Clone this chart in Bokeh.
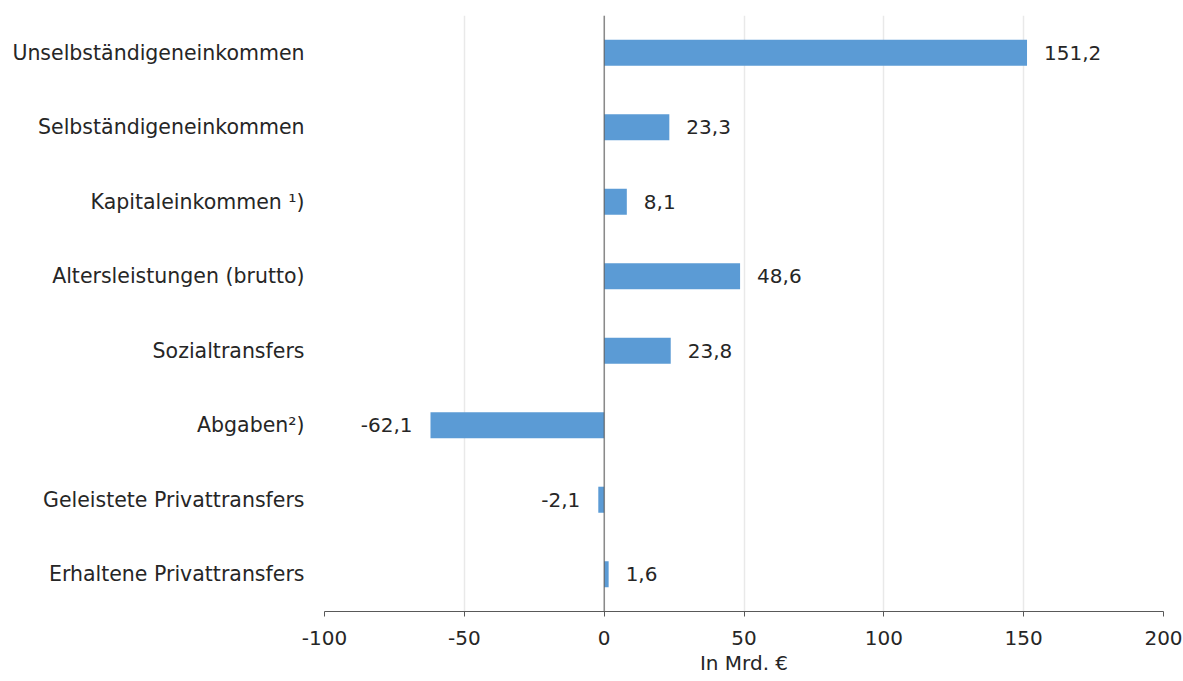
from bokeh.plotting import figure
from bokeh.models import FactorRange, Range1d, FixedTicker, Span, ColumnDataSource, LabelSet
from bokeh.core.properties import value
from bokeh.embed import file_html
from bokeh.resources import INLINE

categories = [
    "Unselbständigeneinkommen",
    "Selbständigeneinkommen",
    "Kapitaleinkommen ¹)",
    "Altersleistungen (brutto)",
    "Sozialtransfers",
    "Abgaben²)",
    "Geleistete Privattransfers",
    "Erhaltene Privattransfers",
]
values = [151.2, 23.3, 8.1, 48.6, 23.8, -62.1, -2.1, 1.6]
x_ticks = [-100, -50, 0, 50, 100, 150, 200]
x_title = "In Mrd. €"

FONT = "DejaVu Sans"
FS = "20px"
TXT = "#262626"

labels = [f"{v:.1f}".replace(".", ",") for v in values]
pos = [v >= 0 for v in values]

src_pos = ColumnDataSource(dict(
    cat=[c for c, p in zip(categories, pos) if p],
    val=[v for v, p in zip(values, pos) if p],
    lab=[l for l, p in zip(labels, pos) if p],
))
src_neg = ColumnDataSource(dict(
    cat=[c for c, p in zip(categories, pos) if not p],
    val=[v for v, p in zip(values, pos) if not p],
    lab=[l for l, p in zip(labels, pos) if not p],
))

p = figure(
    width=1183, height=681,
    y_range=FactorRange(factors=list(reversed(categories))),
    x_range=Range1d(-100, 200),
    output_backend="svg", toolbar_location=None,
    min_border_left=324, min_border_right=20, min_border_top=15, min_border_bottom=70,
)
p.outline_line_color = None
p.background_fill_color = "white"
p.border_fill_color = "white"

for src in (src_pos, src_neg):
    p.hbar(y="cat", right="val", left=0, height=0.35, source=src,
           fill_color="#5B9BD5", line_color=None)

p.add_layout(LabelSet(x="val", y="cat", text="lab", source=src_pos,
                      x_offset=17, text_align="left", text_baseline="middle",
                      text_font=value(FONT), text_font_size=value(FS), text_color=TXT))
p.add_layout(LabelSet(x="val", y="cat", text="lab", source=src_neg,
                      x_offset=-18, text_align="right", text_baseline="middle",
                      text_font=value(FONT), text_font_size=value(FS), text_color=TXT))

p.add_layout(Span(location=0, dimension="height", line_color="#595959", line_width=1))

p.xaxis.ticker = FixedTicker(ticks=x_ticks)
p.xaxis.major_label_overrides = {t: str(t) for t in x_ticks}
p.xaxis.major_label_text_font = FONT
p.xaxis.major_label_text_font_size = FS
p.xaxis.major_label_text_color = TXT
p.xaxis.major_label_standoff = 14
p.xaxis.axis_line_color = "#595959"
p.xaxis.major_tick_line_color = "#595959"
p.xaxis.major_tick_out = 5
p.xaxis.major_tick_in = 0
p.xaxis.minor_tick_line_color = None
p.xaxis.axis_label = x_title
p.xaxis.axis_label_text_font = FONT
p.xaxis.axis_label_text_font_style = "normal"
p.xaxis.axis_label_text_font_size = FS
p.xaxis.axis_label_text_color = TXT
p.xaxis.axis_label_standoff = 3

p.yaxis.axis_line_color = None
p.yaxis.major_tick_line_color = None
p.yaxis.minor_tick_line_color = None
p.yaxis.major_label_text_font = FONT
p.yaxis.major_label_text_font_size = "20.5px"
p.yaxis.major_label_text_color = TXT
p.yaxis.major_label_standoff = 14

p.xgrid.ticker = FixedTicker(ticks=x_ticks)
p.xgrid.grid_line_color = "#E9E9E9"
p.xgrid.grid_line_width = 1.5
p.ygrid.grid_line_color = None

open("out.html", "w").write(file_html(p, INLINE))
